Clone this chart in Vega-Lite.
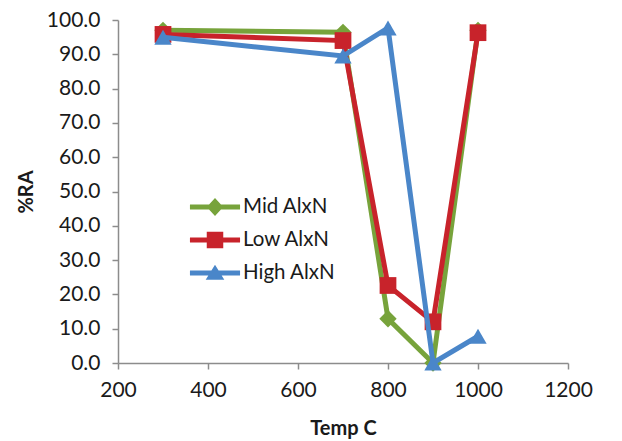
{
  "$schema": "https://vega.github.io/schema/vega-lite/v6.json",
  "width": 450,
  "height": 343,
  "autosize": "none",
  "padding": {"left": 118, "top": 20, "right": 54, "bottom": 78},
  "background": "white",
  "config": {
    "view": {"stroke": null},
    "font": "Lato",
    "axis": {
      "grid": false,
      "domainColor": "#8c8c8c",
      "domainWidth": 1.5,
      "tickColor": "#8c8c8c",
      "tickWidth": 1.5,
      "tickSize": 6,
      "labelFont": "Lato",
      "labelFontSize": 21,
      "labelColor": "#1a1a1a",
      "titleFont": "Lato",
      "titleFontSize": 20,
      "titleFontWeight": "bold",
      "titleColor": "#1a1a1a"
    }
  },
  "data": {
    "values": [
      {"t": 300, "ra": 97.0, "series": "Mid AlxN"},
      {"t": 700, "ra": 96.4, "series": "Mid AlxN"},
      {"t": 800, "ra": 12.9, "series": "Mid AlxN"},
      {"t": 900, "ra": 0.0, "series": "Mid AlxN"},
      {"t": 1000, "ra": 97.0, "series": "Mid AlxN"},
      {"t": 300, "ra": 95.8, "series": "Low AlxN"},
      {"t": 700, "ra": 94.0, "series": "Low AlxN"},
      {"t": 800, "ra": 22.6, "series": "Low AlxN"},
      {"t": 900, "ra": 12.0, "series": "Low AlxN"},
      {"t": 1000, "ra": 96.3, "series": "Low AlxN"},
      {"t": 300, "ra": 95.0, "series": "High AlxN"},
      {"t": 700, "ra": 89.5, "series": "High AlxN"},
      {"t": 800, "ra": 97.7, "series": "High AlxN"},
      {"t": 900, "ra": 0.0, "series": "High AlxN"},
      {"t": 1000, "ra": 7.8, "series": "High AlxN"}
    ]
  },
  "encoding": {
    "x": {
      "field": "t", "type": "quantitative",
      "scale": {"domain": [200, 1200], "nice": false, "zero": false},
      "axis": {"values": [200, 400, 600, 800, 1000, 1200], "format": "d", "title": "Temp C", "labelPadding": 10, "titlePadding": 18, "labelFlush": false}
    },
    "y": {
      "field": "ra", "type": "quantitative",
      "scale": {"domain": [0, 100], "nice": false},
      "axis": {"values": [0, 10, 20, 30, 40, 50, 60, 70, 80, 90, 100], "format": ".1f", "title": "%RA", "labelPadding": 12, "titlePadding": 10, "labelFlush": false}
    }
  },
  "layer": [
    {"transform": [{"filter": {"field": "series", "equal": "Mid AlxN"}}], "mark": {"type": "line", "strokeWidth": 5, "color": "#77A33B"}},
    {"transform": [{"filter": {"field": "series", "equal": "Mid AlxN"}}], "mark": {"type": "point", "shape": "diamond", "filled": true, "opacity": 1, "size": 300, "color": "#77A33B"}},
    {"transform": [{"filter": {"field": "series", "equal": "Low AlxN"}}], "mark": {"type": "line", "strokeWidth": 5, "color": "#C8232B"}},
    {"transform": [{"filter": {"field": "series", "equal": "Low AlxN"}}], "mark": {"type": "point", "shape": "square", "filled": true, "opacity": 1, "size": 280, "color": "#C8232B"}},
    {"transform": [{"filter": {"field": "series", "equal": "High AlxN"}}], "mark": {"type": "line", "strokeWidth": 5, "color": "#4A86C9"}},
    {"transform": [{"filter": {"field": "series", "equal": "High AlxN"}}], "mark": {"type": "point", "shape": "triangle-up", "filled": true, "opacity": 1, "size": 300, "color": "#4A86C9"}},
    {
      "mark": {"type": "point", "filled": true, "opacity": 1, "size": 0},
      "encoding": {
        "color": {
          "field": "series", "type": "nominal",
          "legend": {
            "title": null, "orient": "none", "legendX": 82, "legendY": 172, "padding": 0,
            "symbolSize": 900, "symbolStrokeWidth": 0, "symbolOpacity": 1,
            "labelFont": "Lato", "labelFontSize": 20.5, "labelColor": "#1a1a1a",
            "labelOffset": 13, "rowPadding": 7, "labelLimit": 300
          },
          "scale": {"domain": ["Mid AlxN", "Low AlxN", "High AlxN"], "range": ["#77A33B", "#C8232B", "#4A86C9"]}
        },
        "shape": {
          "field": "series", "type": "nominal",
          "legend": {
            "title": null, "orient": "none", "legendX": 82, "legendY": 172, "padding": 0,
            "symbolSize": 900, "symbolStrokeWidth": 0, "symbolOpacity": 1,
            "labelFont": "Lato", "labelFontSize": 20.5, "labelColor": "#1a1a1a",
            "labelOffset": 13, "rowPadding": 7, "labelLimit": 300
          },
          "scale": {
            "domain": ["Mid AlxN", "Low AlxN", "High AlxN"],
            "range": [
              "M-1.67,-0.17H1.67V0.17H-1.67Z M0,-0.6L0.55,0L0,0.6L-0.55,0Z",
              "M-1.67,-0.17H1.67V0.17H-1.67Z M-0.55,-0.55H0.55V0.55H-0.55Z",
              "M-1.67,-0.17H1.67V0.17H-1.67Z M0,-0.55L0.62,0.45L-0.62,0.45Z"
            ]
          }
        }
      }
    }
  ]
}
